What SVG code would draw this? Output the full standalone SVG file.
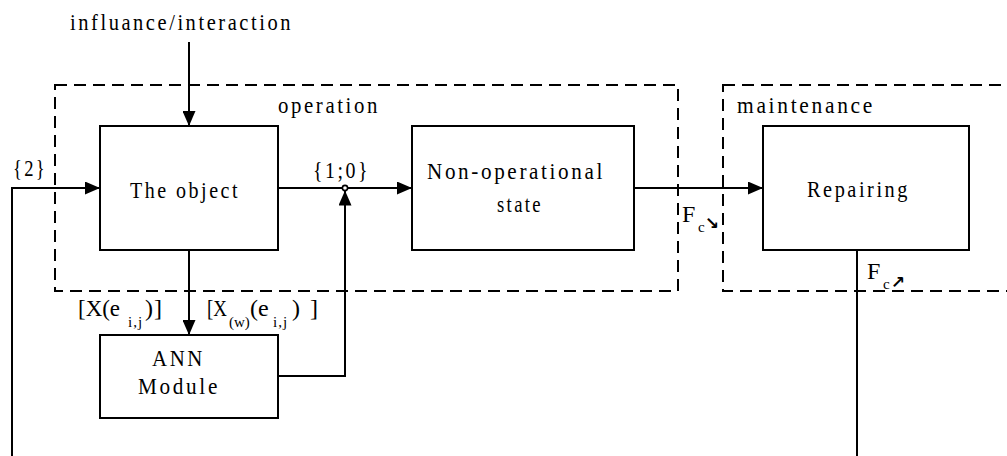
<svg xmlns="http://www.w3.org/2000/svg" width="1007" height="456" viewBox="0 0 1007 456" font-family="'Liberation Serif', 'Times New Roman', 'DejaVu Serif', serif">
<style>
  .box { fill: #fff; stroke: #000; stroke-width: 2; }
  .region { fill: none; stroke: #000; stroke-width: 2; stroke-dasharray: 12 7; }
  .conn { fill: none; stroke: #000; stroke-width: 2; }
  .arr { marker-end: url(#ah); }
  .t { font-family: 'Liberation Serif', 'Times New Roman', 'DejaVu Serif', serif; font-size: 24px; letter-spacing: 3px; fill: #000; }
  .sub { font-family: 'Liberation Serif', 'Times New Roman', 'DejaVu Serif', serif; font-size: 15px; letter-spacing: 1px; fill: #000; }
  .sym { font-family: 'DejaVu Sans', sans-serif; font-size: 17px; font-weight: bold; fill: #000; }
  .n { letter-spacing: 0; }
</style>
<defs>
  <marker id="ah" viewBox="0 0 15 13" refX="15" refY="6.5" markerWidth="15" markerHeight="13" markerUnits="userSpaceOnUse" orient="auto">
    <path d="M0,0 L15,6.5 L0,13 Z" fill="#000"/>
  </marker>
</defs>
<rect width="1007" height="456" fill="#fff"/>

<g id="region-operation">
  <rect class="region" x="55" y="85" width="623" height="206"/>
  <text class="t" x="278" y="113" textLength="102" lengthAdjust="spacingAndGlyphs">operation</text>
</g>
<g id="region-maintenance">
  <rect class="region" x="723" y="85" width="320" height="206"/>
  <text class="t" x="737" y="113" textLength="138" lengthAdjust="spacingAndGlyphs">maintenance</text>
</g>

<g id="connectors">
  <path class="conn arr" d="M189,42 V126"/>
  <path class="conn arr" d="M12,456 V188 H100"/>
  <path class="conn arr" d="M278,188 H412"/>
  <path class="conn arr" d="M189,250 V335"/>
  <path class="conn arr" d="M278,376 H345 V190.5"/>
  <path class="conn arr" d="M634,188 H763"/>
  <path class="conn" d="M857,250 V456"/>
  <circle cx="345" cy="188" r="2.6" fill="#fff" stroke="#000" stroke-width="1.6"/>
</g>

<g id="label-input">
  <text class="t" x="70" y="30" textLength="223" lengthAdjust="spacingAndGlyphs">influance/interaction</text>
</g>
<g id="label-2">
  <text class="t" x="13" y="176" textLength="34" lengthAdjust="spacingAndGlyphs">{2}</text>
</g>
<g id="label-10">
  <text class="t" x="313" y="178" textLength="57" lengthAdjust="spacingAndGlyphs">{1;0}</text>
</g>

<g id="node-object">
  <rect class="box" x="100" y="126" width="178" height="124"/>
  <text class="t" x="130" y="198" textLength="110" lengthAdjust="spacingAndGlyphs">The object</text>
</g>
<g id="node-nonoperational">
  <rect class="box" x="412" y="126" width="222" height="124"/>
  <text class="t" x="427" y="179" textLength="178" lengthAdjust="spacingAndGlyphs">Non-operational</text>
  <text class="t" x="497" y="212" textLength="46" lengthAdjust="spacingAndGlyphs">state</text>
</g>
<g id="node-repairing">
  <rect class="box" x="763" y="126" width="206" height="124"/>
  <text class="t" x="807" y="197" textLength="103" lengthAdjust="spacingAndGlyphs">Repairing</text>
</g>
<g id="node-ann">
  <rect class="box" x="100" y="335" width="178" height="83"/>
  <text class="t" x="152" y="366" textLength="53" lengthAdjust="spacingAndGlyphs">ANN</text>
  <text class="t" x="138" y="394" textLength="82" lengthAdjust="spacingAndGlyphs">Module</text>
</g>

<g id="label-fc-down">
  <text class="t" x="682" y="222">F</text>
  <text class="sub" x="698" y="232">c</text>
  <text class="sym" x="705" y="229">↘</text>
</g>
<g id="label-fc-up">
  <text class="t" x="867" y="279">F</text>
  <text class="sub" x="883" y="289">c</text>
  <text class="sym" x="891" y="288">↗</text>
</g>

<g id="label-x">
  <text class="t"><tspan class="n" x="78" y="316" textLength="42" lengthAdjust="spacingAndGlyphs">[X(e</tspan><tspan class="sub" x="128" y="327">i,j</tspan><tspan class="n" x="145" y="316" textLength="17" lengthAdjust="spacing">)]</tspan></text>
</g>
<g id="label-xw">
  <text class="t"><tspan class="n" x="207" y="316" textLength="20" lengthAdjust="spacingAndGlyphs">[X</tspan><tspan class="sub n" x="229" y="327">(w)</tspan><tspan class="n" x="250" y="316">(e</tspan><tspan class="sub" x="273" y="327">i,j</tspan><tspan class="n" x="292" y="316" textLength="26" lengthAdjust="spacing">)]</tspan></text>
</g>
</svg>
